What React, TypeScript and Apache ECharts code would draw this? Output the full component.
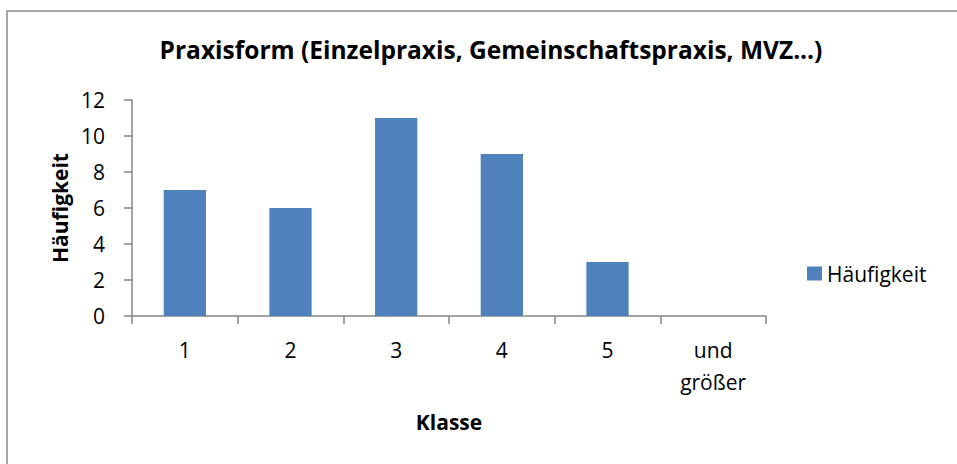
import React, { useEffect, useRef } from "react";
import * as echarts from "echarts";

const categories = ["1", "2", "3", "4", "5", "und\ngrößer"];
const frequencies = [7, 6, 11, 9, 3, 0];
const yTicks = { min: 0, max: 12, interval: 2 };
const titleText = "Praxisform (Einzelpraxis, Gemeinschaftspraxis, MVZ...)";
const seriesName = "Häufigkeit";
const xName = "Klasse";
const yName = "Häufigkeit";

const FONT = "Open Sans";
const AXIS_COLOR = "#868686";

export default function App() {
  const ref = useRef<HTMLDivElement>(null);
  useEffect(() => {
    if (!ref.current) return;
    const chart = echarts.init(ref.current, undefined, { renderer: "svg" });
    chart.setOption({
      animation: false,
      backgroundColor: "#ffffff",
      textStyle: { fontFamily: FONT },
      title: {
        text: titleText,
        left: 486,
        textAlign: "center",
        top: 32,
        textStyle: { fontFamily: FONT, fontWeight: "bold", fontSize: 24.5, color: "#000" },
      },
      graphic: [
        {
          type: "rect",
          shape: { x: 7, y: 11, width: 1000, height: 500 },
          style: { fill: "none", stroke: "#8c8c8c", lineWidth: 1.5 },
          silent: true,
          z: -1,
        },
      ],
      legend: {
        data: [seriesName],
        left: 802,
        top: 258,
        itemWidth: 15,
        itemHeight: 14,
        itemGap: 6,
        icon: "rect",
        textStyle: { fontFamily: FONT, fontSize: 21, color: "#000" },
      },
      grid: { left: 132, right: 191, top: 100, bottom: 148 },
      xAxis: {
        type: "category",
        data: categories,
        name: xName,
        nameLocation: "middle",
        nameGap: 95,
        nameTextStyle: { fontFamily: FONT, fontWeight: "bold", fontSize: 21, color: "#000" },
        axisLine: { lineStyle: { color: AXIS_COLOR, width: 1.5 } },
        axisTick: { show: true, length: 8, lineStyle: { color: AXIS_COLOR, width: 1.5 } },
        axisLabel: { fontFamily: FONT, fontSize: 21, color: "#000", margin: 18, lineHeight: 32 },
      },
      yAxis: {
        type: "value",
        min: yTicks.min,
        max: yTicks.max,
        interval: yTicks.interval,
        name: yName,
        nameLocation: "middle",
        nameGap: 57,
        nameRotate: 90,
        nameTextStyle: { fontFamily: FONT, fontWeight: "bold", fontSize: 21, color: "#000" },
        splitLine: { show: false },
        axisLine: { show: true, lineStyle: { color: AXIS_COLOR, width: 1.5 } },
        axisTick: { show: true, length: 8, lineStyle: { color: AXIS_COLOR, width: 1.5 } },
        axisLabel: { fontFamily: FONT, fontSize: 21, color: "#000", margin: 27 },
      },
      series: [
        {
          name: seriesName,
          type: "bar",
          data: frequencies,
          barWidth: "40%",
          itemStyle: { color: "#4F81BD" },
        },
      ],
    });
    return () => chart.dispose();
  }, []);
  return (
    <div
      ref={ref}
      style={{ position: "absolute", left: 0, top: 0, width: 957, height: 464 }}
    />
  );
}
